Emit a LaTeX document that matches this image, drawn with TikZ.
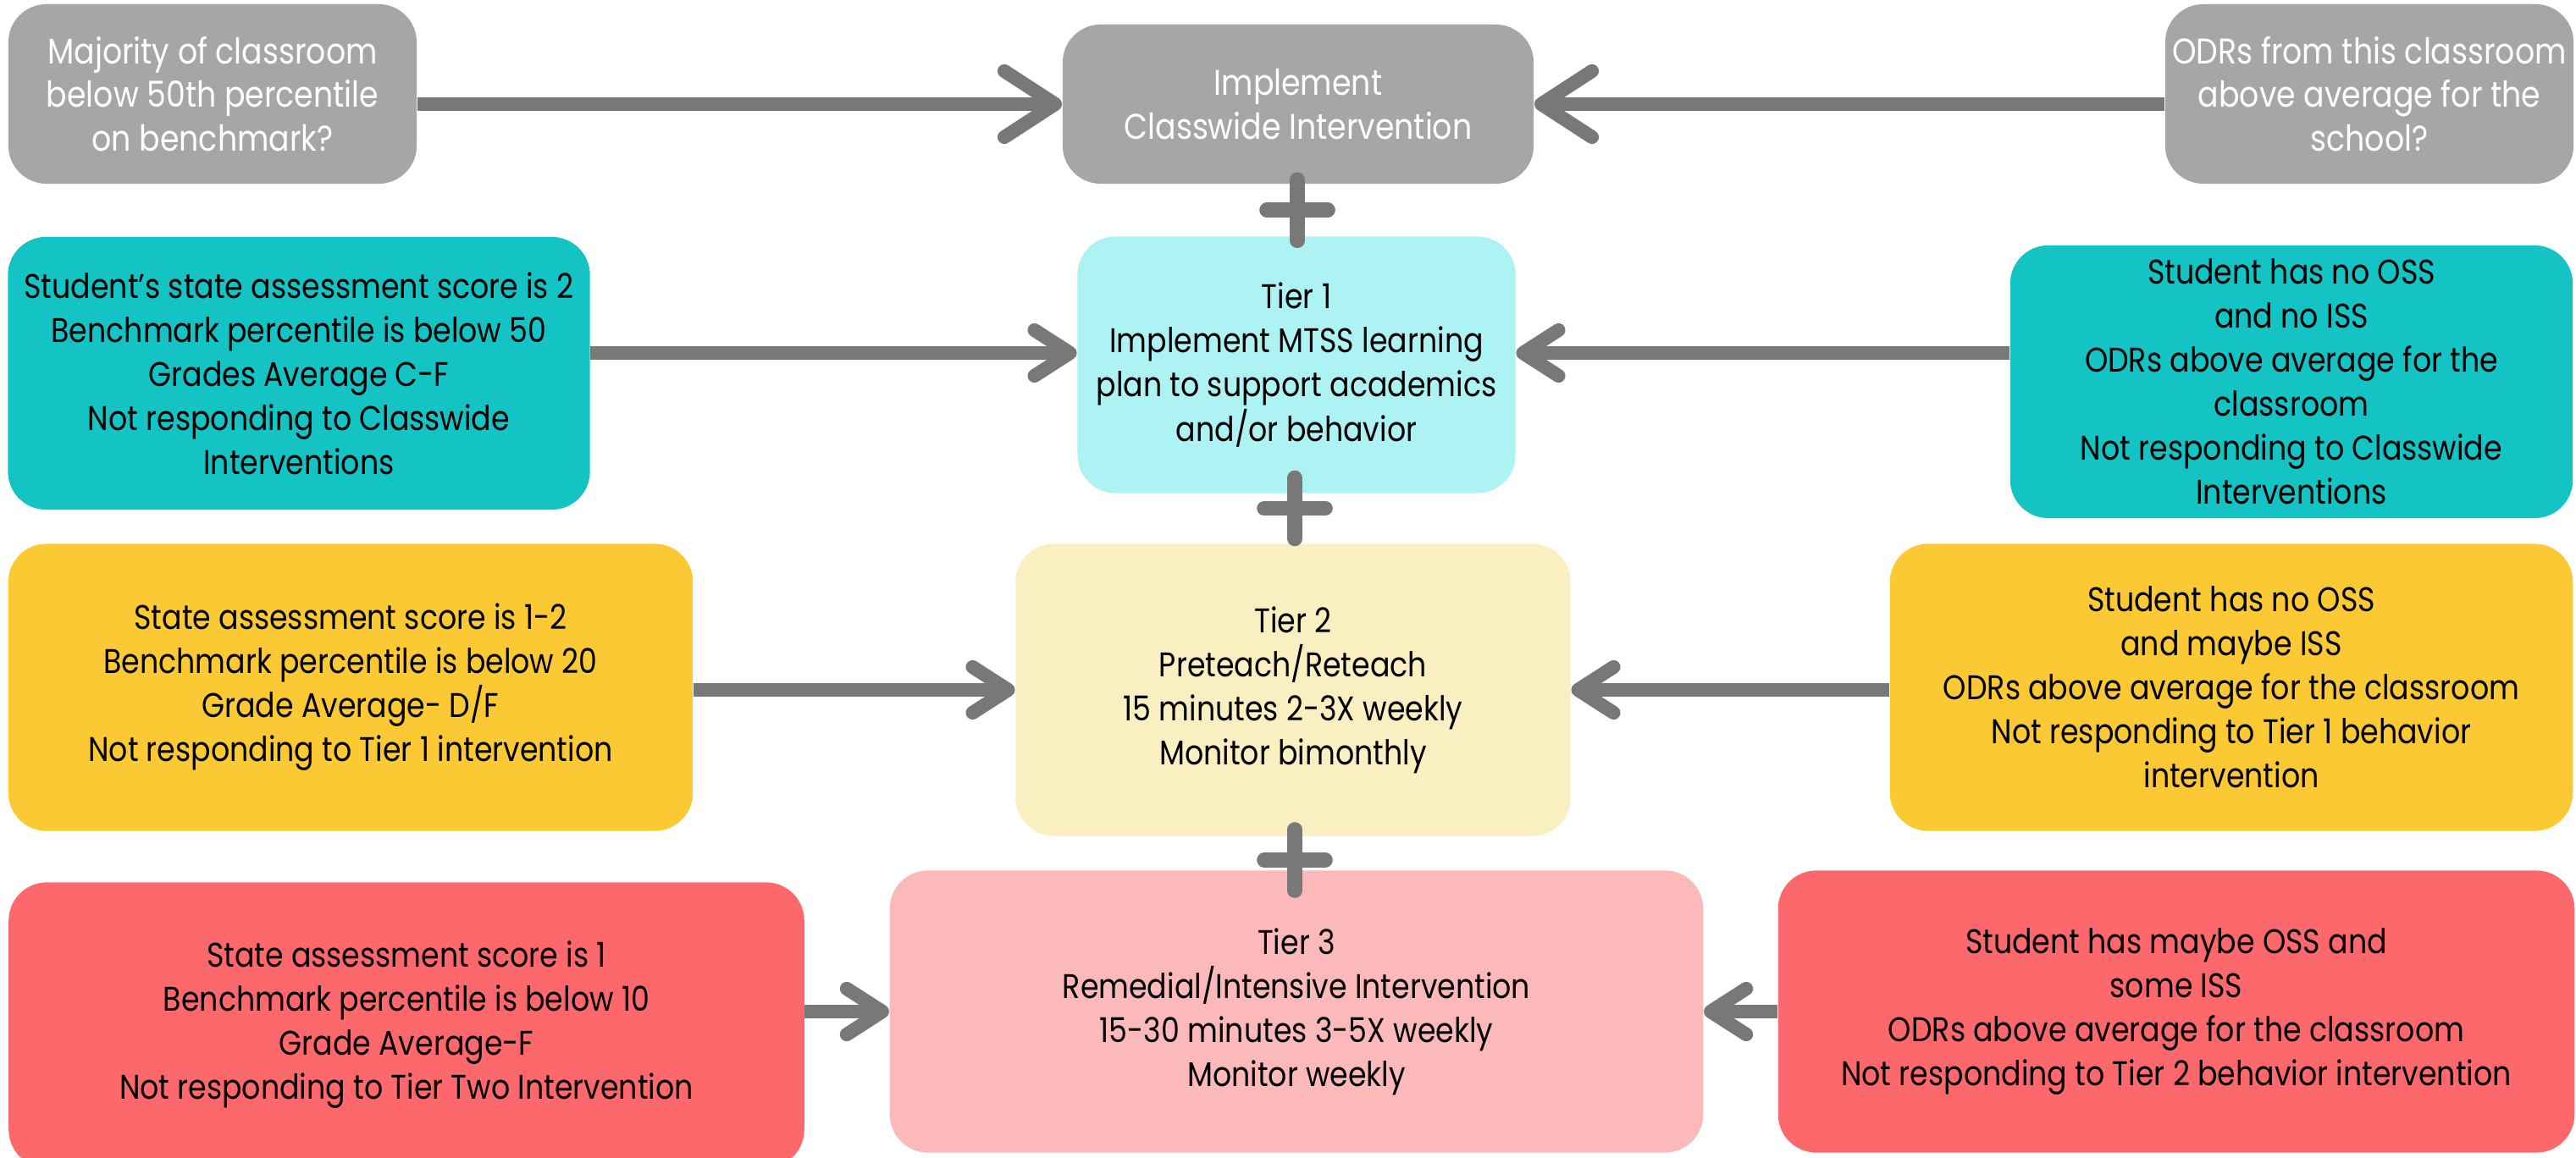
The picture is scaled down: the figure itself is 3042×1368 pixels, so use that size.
\documentclass[tikz,border=0pt]{standalone}
\usepackage{fontspec}
\setmainfont{Poppins}[FakeStretch=0.86]
\usepackage{tikz}
\usetikzlibrary{arrows.meta,calc}

\definecolor{boxgray}{HTML}{A6A6A6}
\definecolor{arrowgray}{HTML}{787878}
\definecolor{tealdark}{HTML}{14C3C3}
\definecolor{teallight}{HTML}{AEF3F3}
\definecolor{golddark}{HTML}{FBC934}
\definecolor{goldlight}{HTML}{F9EFC1}
\definecolor{reddark}{HTML}{FD686D}
\definecolor{redlight}{HTML}{FBB9BA}

\tikzset{
  box/.style={rounded corners=0.45cm, align=center, inner sep=0pt,
    font=\fontsize{11.5}{14.8}\selectfont},
  graybox/.style={box, fill=boxgray, text=white,
    font=\fontsize{12}{14.6}\selectfont},
  link/.style={draw=arrowgray, line width=4.6pt,
    -{Straight Barb[length=0.42cm, width=0.54cm, round]}},
  biglink/.style={link, -{Straight Barb[length=0.6cm, width=0.78cm, round]}},
  plusline/.style={draw=arrowgray, line width=5pt, line cap=round}
}

\begin{document}
\begin{tikzpicture}[x=0.01cm, y=-0.01cm]
        \useasboundingbox (0,0) rectangle (3042,1368);

        % Top row: classwide
        \node[graybox, minimum width=4.82cm, minimum height=2.12cm] (cond) at (251,111)
          {Majority of classroom\\below 50th percentile\\on benchmark?};
        \node[graybox, minimum width=5.56cm, minimum height=1.88cm] (impl) at (1533,123)
          {Implement\\Classwide Intervention};
        \node[graybox, minimum width=4.82cm, minimum height=2.12cm] (odr) at (2798,111)
          {ODRs from this classroom\\above average for the\\school?};

        % Tier 1 row
        \node[box, fill=tealdark, minimum width=6.87cm, minimum height=3.22cm] (acadA) at (353,441)
          {Student's state assessment score is 2\\Benchmark percentile is below 50\\Grades Average C-F\\Not responding to Classwide\\Interventions};
        \node[box, fill=teallight, minimum width=5.17cm, minimum height=3.03cm] (tier1) at (1531,431)
          {Tier 1\\Implement MTSS learning\\plan to support academics\\and/or behavior};
        \node[box, fill=tealdark, minimum width=6.64cm, minimum height=3.22cm] (behA) at (2706,451)
          {Student has no OSS\\and no ISS\\ODRs above average for the\\classroom\\Not responding to Classwide\\Interventions};

        % Tier 2 row
        \node[box, fill=golddark, minimum width=8.08cm, minimum height=3.39cm] (acadB) at (414,812)
          {State assessment score is 1-2\\Benchmark percentile is below 20\\Grade Average- D/F\\Not responding to Tier 1 intervention};
        \node[box, fill=goldlight, minimum width=6.55cm, minimum height=3.45cm] (tier2) at (1527,815)
          {Tier 2\\Preteach/Reteach\\15 minutes 2-3X weekly\\Monitor bimonthly};
        \node[box, fill=golddark, minimum width=8.06cm, minimum height=3.39cm] (behB) at (2635,812)
          {Student has no OSS\\and maybe ISS\\ODRs above average for the classroom\\Not responding to Tier 1 behavior\\intervention};

        % Tier 3 row
        \node[box, fill=reddark, minimum width=9.39cm, minimum height=3.37cm] (acadC) at (480,1211)
          {State assessment score is 1\\Benchmark percentile is below 10\\Grade Average-F\\Not responding to Tier Two Intervention};
        \node[box, fill=redlight, minimum width=9.60cm, minimum height=3.33cm] (tier3) at (1531,1195)
          {Tier 3\\Remedial/Intensive Intervention\\15-30 minutes 3-5X weekly\\Monitor weekly};
        \node[box, fill=reddark, minimum width=9.40cm, minimum height=3.33cm] (behC) at (2570,1195)
          {Student has maybe OSS and\\some ISS\\ODRs above average for the classroom\\Not responding to Tier 2 behavior intervention};

        % Arrows into the middle column
        \draw[biglink] (cond.east |- impl.west) -- (impl.west);
        \draw[biglink] (odr.west |- impl.east) -- (impl.east);
        \coordinate (inA) at ([yshift=0.14cm]tier1.west);
        \coordinate (inB) at ([yshift=0.14cm]tier1.east);
        \draw[link] (acadA.east |- inA) -- (inA);
        \draw[link] (behA.west |- inB) -- (inB);
        \draw[link] (acadB.east |- tier2.west) -- (tier2.west);
        \draw[link] (behB.west |- tier2.east) -- (tier2.east);
        \draw[link] (acadC.east |- tier3.west) -- (tier3.west);
        \draw[link] (behC.west |- tier3.east) -- (tier3.east);

        % Plus signs between the middle boxes
        \coordinate (j1) at ($(impl.south)!0.5!(tier1.north)$);
        \coordinate (j2) at ([yshift=0.12cm]$(tier1.south)!0.5!(tier2.north)$);
        \coordinate (j3) at ([yshift=-0.08cm]$(tier2.south)!0.5!(tier3.north)$);
        \foreach \j in {j1,j2,j3} {
          \draw[plusline] (\j) +(0,-36) -- +(0,36);
          \draw[plusline] (\j) +(-36,0) -- +(36,0);
        }
    \end{tikzpicture}
\end{document}
